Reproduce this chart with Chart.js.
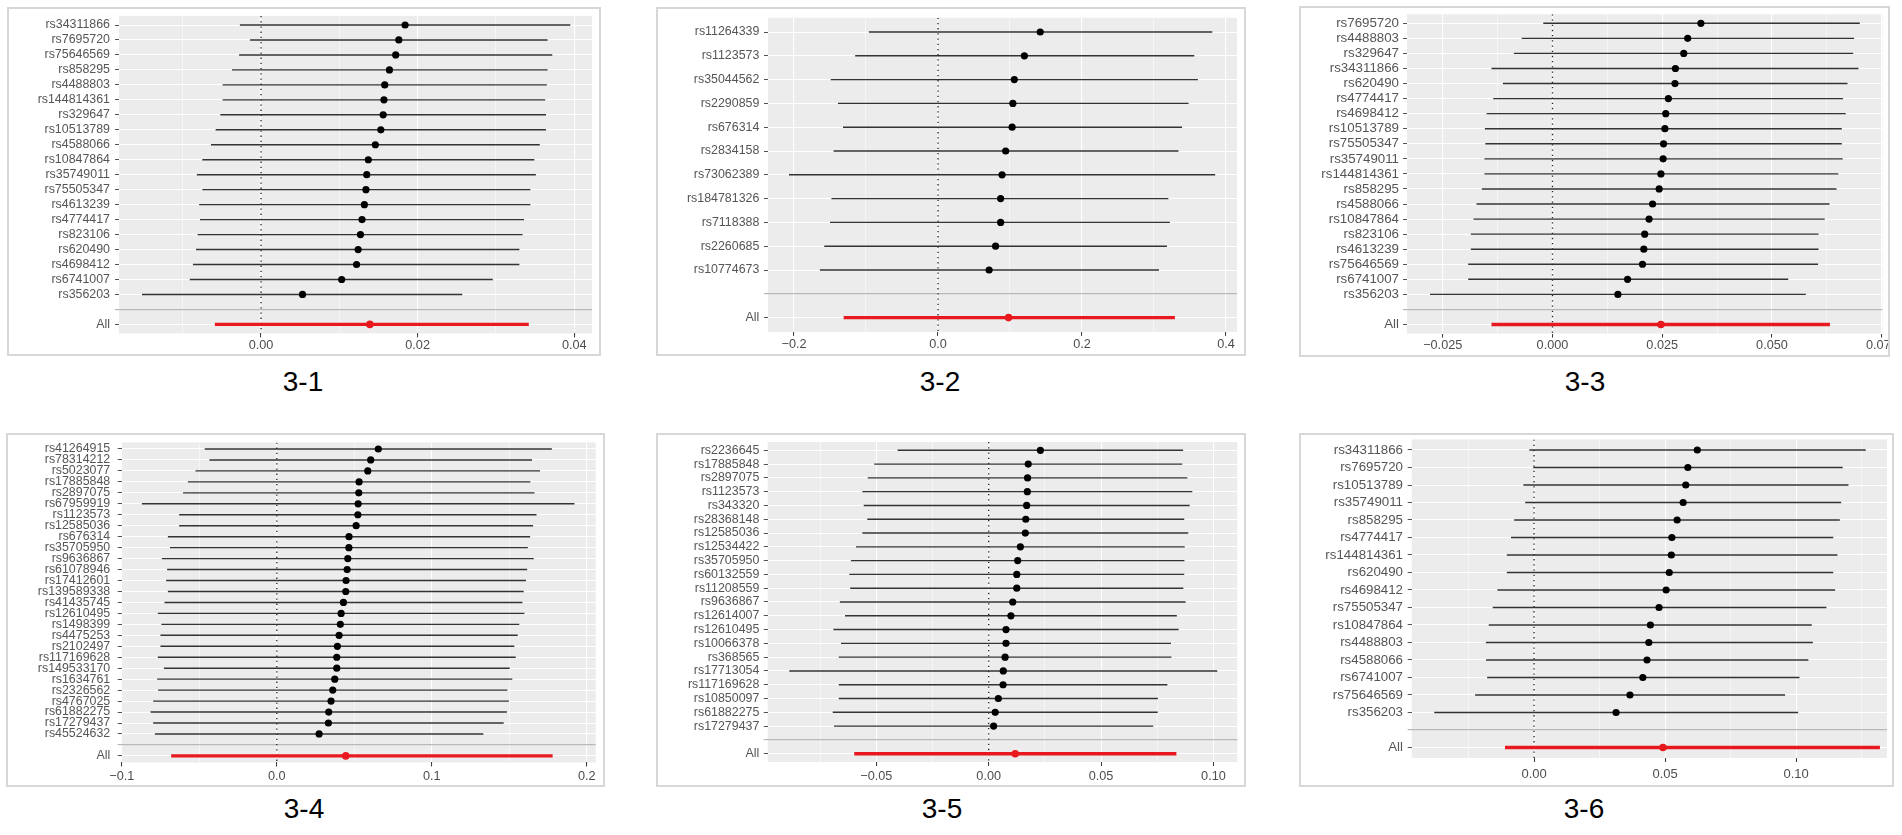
<!DOCTYPE html>
<html><head><meta charset="utf-8">
<script src="https://cdn.jsdelivr.net/npm/chart.js@4.4.1/dist/chart.umd.min.js"></script>
<style>
html,body{margin:0;padding:0;background:#fff;width:1902px;height:835px;overflow:hidden;font-family:"Liberation Sans",Arial,sans-serif;}
.box{position:absolute;box-sizing:border-box;border:2px solid #d7d7d7;}
canvas{position:absolute;}
.title{position:absolute;width:120px;text-align:center;font-size:28px;color:#000;line-height:32px;}
</style></head><body>
<script>
// ---------- DATA ----------
// 3-1
const snps31 = ['rs34311866','rs7695720','rs75646569','rs858295','rs4488803','rs144814361','rs329647','rs10513789','rs4588066','rs10847864','rs35749011','rs75505347','rs4613239','rs4774417','rs823106','rs620490','rs4698412','rs6741007','rs356203'];
const est31 = [0.0184,0.0176,0.0172,0.0164,0.0158,0.0157,0.0156,0.0153,0.0146,0.0137,0.0135,0.0134,0.0132,0.0129,0.0127,0.0124,0.0122,0.0103,0.0053];
const lo31 = [-0.0027,-0.0014,-0.0028,-0.0037,-0.0049,-0.0049,-0.0052,-0.0058,-0.0064,-0.0075,-0.0082,-0.0075,-0.0079,-0.0078,-0.0081,-0.0083,-0.0087,-0.0091,-0.0152];
const hi31 = [0.0395,0.0366,0.0372,0.0366,0.0365,0.0363,0.0364,0.0364,0.0356,0.0349,0.0351,0.0344,0.0344,0.0336,0.0334,0.0330,0.0330,0.0296,0.0257];
const all31 = [0.0139,-0.0059,0.0342];
const ticks31 = [0,0.02,0.04];
const tickLab31 = ['0.00','0.02','0.04'];
const minor31 = [-0.01,0.01,0.03];

// 3-2
const snps32 = ['rs11264339','rs1123573','rs35044562','rs2290859','rs676314','rs2834158','rs73062389','rs184781326','rs7118388','rs2260685','rs10774673'];
const est32 = [0.142,0.120,0.106,0.104,0.103,0.094,0.089,0.087,0.087,0.080,0.071];
const lo32 = [-0.096,-0.115,-0.149,-0.139,-0.132,-0.145,-0.207,-0.148,-0.150,-0.158,-0.164];
const hi32 = [0.381,0.356,0.361,0.348,0.339,0.334,0.385,0.320,0.322,0.318,0.307];
const all32 = [0.098,-0.131,0.329];
const ticks32 = [-0.2,0,0.2,0.4];
const tickLab32 = ['\u22120.2','0.0','0.2','0.4'];
const minor32 = [-0.1,0.1,0.3];

// 3-3
const snps33 = ['rs7695720','rs4488803','rs329647','rs34311866','rs620490','rs4774417','rs4698412','rs10513789','rs75505347','rs35749011','rs144814361','rs858295','rs4588066','rs10847864','rs823106','rs4613239','rs75646569','rs6741007','rs356203'];
const est33 = [0.0338,0.0308,0.0299,0.0280,0.0279,0.0264,0.0258,0.0256,0.0253,0.0252,0.0247,0.0243,0.0228,0.0220,0.0210,0.0208,0.0205,0.0171,0.0149];
const lo33 = [-0.0021,-0.0070,-0.0088,-0.0139,-0.0113,-0.0135,-0.0150,-0.0154,-0.0153,-0.0155,-0.0155,-0.0161,-0.0173,-0.0180,-0.0186,-0.0186,-0.0192,-0.0192,-0.0279];
const hi33 = [0.0700,0.0687,0.0685,0.0697,0.0672,0.0662,0.0668,0.0659,0.0659,0.0661,0.0651,0.0647,0.0631,0.0620,0.0606,0.0606,0.0605,0.0537,0.0577];
const all33 = [0.0247,-0.0139,0.0632];
const ticks33 = [-0.025,0,0.025,0.05,0.075];
const tickLab33 = ['\u22120.025','0.000','0.025','0.050','0.075'];
const minor33 = [-0.0125,0.0125,0.0375,0.0625];

// 3-4
const snps34 = ['rs41264915','rs78314212','rs5023077','rs17885848','rs2897075','rs67959919','rs1123573','rs12585036','rs676314','rs35705950','rs9636867','rs61078946','rs17412601','rs139589338','rs41435745','rs12610495','rs1498399','rs4475253','rs2102497','rs117169628','rs149533170','rs1634761','rs2326562','rs4767025','rs61882275','rs17279437','rs45524632'];
const est34 = [0.0655,0.0606,0.0587,0.0531,0.0529,0.0525,0.0523,0.0512,0.0466,0.0465,0.0458,0.0454,0.0447,0.0445,0.0430,0.0415,0.0410,0.0402,0.0391,0.0387,0.0387,0.0374,0.0361,0.0350,0.0335,0.0333,0.0273];
const lo34 = [-0.0465,-0.0435,-0.0525,-0.0574,-0.0605,-0.0871,-0.0630,-0.0630,-0.0703,-0.0690,-0.0742,-0.0708,-0.0714,-0.0703,-0.0725,-0.0768,-0.0745,-0.0751,-0.0751,-0.0768,-0.0729,-0.0772,-0.0766,-0.0798,-0.0815,-0.0798,-0.0787];
const hi34 = [0.1775,0.1647,0.1699,0.1636,0.1663,0.1921,0.1676,0.1654,0.1635,0.1620,0.1658,0.1616,0.1608,0.1593,0.1585,0.1598,0.1565,0.1555,0.1533,0.1542,0.1503,0.1520,0.1488,0.1498,0.1485,0.1464,0.1333];
const all34 = [0.0445,-0.0682,0.178];
const ticks34 = [-0.1,0,0.1,0.2];
const tickLab34 = ['\u22120.1','0.0','0.1','0.2'];
const minor34 = [-0.05,0.05,0.15];

// 3-5
const snps35 = ['rs2236645','rs17885848','rs2897075','rs1123573','rs343320','rs28368148','rs12585036','rs12534422','rs35705950','rs60132559','rs11208559','rs9636867','rs12614007','rs12610495','rs10066378','rs368565','rs17713054','rs117169628','rs10850097','rs61882275','rs17279437'];
const est35 = [0.0230,0.0176,0.0173,0.0172,0.0169,0.0165,0.0163,0.0141,0.0129,0.0125,0.0125,0.0107,0.0099,0.0077,0.0077,0.0073,0.0065,0.0064,0.0043,0.0029,0.0022];
const lo35 = [-0.0405,-0.0509,-0.0538,-0.0562,-0.0556,-0.0540,-0.0562,-0.0590,-0.0613,-0.0620,-0.0616,-0.0662,-0.0639,-0.0691,-0.0657,-0.0667,-0.0887,-0.0667,-0.0667,-0.0694,-0.0688];
const hi35 = [0.0865,0.0861,0.0884,0.0906,0.0894,0.0870,0.0888,0.0872,0.0871,0.0870,0.0866,0.0876,0.0837,0.0845,0.0811,0.0813,0.1017,0.0795,0.0753,0.0752,0.0732];
const all35 = [0.0118,-0.0598,0.0835];
const ticks35 = [-0.05,0,0.05,0.10];
const tickLab35 = ['\u22120.05','0.00','0.05','0.10'];
const minor35 = [-0.075,-0.025,0.025,0.075];

// 3-6
const snps36 = ['rs34311866','rs7695720','rs10513789','rs35749011','rs858295','rs4774417','rs144814361','rs620490','rs4698412','rs75505347','rs10847864','rs4488803','rs4588066','rs6741007','rs75646569','rs356203'];
const est36 = [0.0623,0.0587,0.0579,0.0569,0.0546,0.0526,0.0524,0.0516,0.0504,0.0477,0.0444,0.0438,0.0431,0.0415,0.0366,0.0313];
const lo36 = [-0.0018,-0.0003,-0.0041,-0.0034,-0.0076,-0.0088,-0.0104,-0.0104,-0.0140,-0.0158,-0.0173,-0.0184,-0.0183,-0.0179,-0.0225,-0.0381];
const hi36 = [0.1266,0.1178,0.1200,0.1172,0.1167,0.1142,0.1158,0.1142,0.1149,0.1116,0.1060,0.1064,0.1047,0.1013,0.0958,0.1008];
const all36 = [0.0492,-0.0111,0.132];
const ticks36 = [0,0.05,0.10];
const tickLab36 = ['0.00','0.05','0.10'];
const minor36 = [-0.025,0.025,0.075,0.125];

// ---------- LAYOUT (positions / sizes) ----------
const L31 = {box:[7,7,601,356], plotL:119, plotR:592, y0:25, step:14.97, xr:[-0.01814,0.04227], yFont:12.4, xFont:12.7, yPad:5, xPad:0.5, title:[303,382]};
const L32 = {box:[656,7,1246,356], plotL:768, plotR:1237, y0:32, step:23.8, xr:[-0.2361,0.4153], yFont:12.4, xFont:12.7, yPad:4.7, xPad:1, title:[940,382]};
const L33 = {box:[1299,6,1890,357], plotL:1407, plotR:1882.5, y0:23.3, step:15.06, xr:[-0.03314,0.07517], yFont:13.3, xFont:12.7, yPad:4, xPad:0.5, title:[1585,382]};
const L34 = {box:[6,433,605,787], plotL:121.7, plotR:595.7, y0:449, step:10.96, xr:[-0.1001,0.2058], yFont:12.4, xFont:12.7, yPad:7.5, xPad:2.5, title:[304,809]};
const L35 = {box:[656,433,1246,787], plotL:767.7, plotR:1237.3, y0:450.3, step:13.79, xr:[-0.0983,0.1106], yFont:12.4, xFont:12.7, yPad:4.4, xPad:3, title:[942,809]};
const L36 = {box:[1299,433,1894,787], plotL:1411.7, plotR:1887, y0:450, step:17.5, xr:[-0.0467,0.1347], yFont:13.3, xFont:13, yPad:4.7, xPad:4.5, title:[1584,809]};

Chart.defaults.font.family = '"Liberation Sans", Arial, sans-serif';

const bgPlugin = {
  id:'panelBg',
  beforeDraw(chart){
    const {ctx, chartArea:a} = chart;
    ctx.save();
    ctx.fillStyle = '#ececec';
    ctx.fillRect(a.left, a.top, a.right - a.left, a.bottom - a.top);
    ctx.restore();
  }
};

function drawPanel(titleText, snps, est, lo, hi, all, tickVals, tickLabs, minorVals, L){
  const n = snps.length;
  const [bl, bt, br, bb] = L.box;
  const box = document.createElement('div');
  box.className = 'box';
  Object.assign(box.style, {left: bl+'px', top: bt+'px', width: (br-bl)+'px', height: (bb-bt)+'px'});
  document.body.appendChild(box);

  const cx = bl + 2, cy = bt + 2, cw = br - bl - 4, ch = bb - bt - 4;
  const cv = document.createElement('canvas');
  cv.width = cw; cv.height = ch;
  Object.assign(cv.style, {left: cx+'px', top: cy+'px', width: cw+'px', height: ch+'px'});
  document.body.appendChild(cv);

  const plotTop = L.y0 - 0.6 * L.step;
  const plotBottom = L.y0 + (n + 1.6) * L.step;
  const yW = L.plotL - cx;
  const xH = (cy + ch) - plotBottom;
  const padTop = plotTop - cy;
  const padRight = (cx + cw) - L.plotR;

  const segs = [];
  for (let i = 0; i < n; i++) {
    segs.push({x: lo[i], y: i}, {x: hi[i], y: i}, {x: null, y: null});
  }
  const dots = est.map((v, i) => ({x: v, y: i}));
  const allY = n + 1;

  const xTicks = tickVals.map((v, i) => ({value: v, lab: tickLabs[i], maj: true}))
    .concat(minorVals.map(v => ({value: v, lab: '', maj: false})))
    .sort((a, b) => a.value - b.value);
  const yTicks = snps.map((s, i) => ({value: i, lab: s}))
    .concat([{value: n, lab: '', sep: true}, {value: n + 1, lab: 'All'}]);

  new Chart(cv, {
    type: 'scatter',
    data: {
      datasets: [
        {data: dots, pointRadius: 3.6, pointBackgroundColor: '#000', pointBorderWidth: 0, showLine: false},
        {data: [{x: all[0], y: allY}], pointRadius: 3.8, pointBackgroundColor: '#e8191e', pointBorderWidth: 0, showLine: false},
        {type: 'line', data: [{x: all[1], y: allY}, {x: all[2], y: allY}], borderColor: '#e8191e', borderWidth: 3.4, pointRadius: 0, tension: 0, fill: false},
        {type: 'line', data: segs, borderColor: '#333', borderWidth: 1.4, pointRadius: 0, tension: 0, fill: false, spanGaps: false},
        {type: 'line', data: [{x: 0, y: -0.6}, {x: 0, y: n + 1.6}], borderColor: '#222', borderWidth: 1.3, borderDash: [1.3, 3.9], pointRadius: 0, tension: 0, fill: false}
      ]
    },
    options: {
      responsive: false, animation: false, events: [],
      layout: {padding: {top: padTop, right: padRight, left: 0, bottom: 0}},
      plugins: {legend: {display: false}, tooltip: {enabled: false}},
      scales: {
        x: {
          type: 'linear', min: L.xr[0], max: L.xr[1],
          border: {display: false},
          grid: {
            color: '#ffffff',
            lineWidth: c => (c.tick && c.tick.maj) ? 1.1 : 0.55,
            tickColor: c => (c.tick && c.tick.maj) ? '#333' : 'rgba(0,0,0,0)',
            tickLength: 4, tickWidth: 1
          },
          ticks: {
            autoSkip: false, maxRotation: 0, minRotation: 0, padding: L.xPad,
            color: '#4d4d4d', font: {size: L.xFont},
            callback: (v, i, t) => (t[i] && t[i].lab) || ''
          },
          afterBuildTicks: s => { s.ticks = xTicks.map(t => Object.assign({}, t)); },
          afterFit: s => { s.height = xH; s.paddingLeft = 0; s.paddingRight = 0; s.paddingTop = 0; s.paddingBottom = 0; }
        },
        y: {
          type: 'linear', reverse: true, min: -0.6, max: n + 1.6,
          border: {display: false},
          grid: {
            color: c => (c.tick && c.tick.sep) ? '#b9b9b9' : '#ffffff',
            lineWidth: c => (c.tick && c.tick.sep) ? 1.3 : 1,
            tickColor: c => (c.tick && c.tick.sep) ? '#aaaaaa' : '#555',
            tickLength: 4, tickWidth: 1
          },
          ticks: {
            autoSkip: false, padding: L.yPad, color: '#555', font: {size: L.yFont},
            callback: (v, i, t) => (t[i] && t[i].lab) || ''
          },
          afterBuildTicks: s => { s.ticks = yTicks.map(t => Object.assign({}, t)); },
          afterFit: s => { s.width = yW; s.paddingLeft = 0; s.paddingRight = 0; s.paddingTop = 0; s.paddingBottom = 0; }
        }
      }
    },
    plugins: [bgPlugin]
  });

  const t = document.createElement('div');
  t.className = 'title';
  t.textContent = titleText;
  Object.assign(t.style, {left: (L.title[0] - 60) + 'px', top: (L.title[1] - 16) + 'px'});
  document.body.appendChild(t);
}

drawPanel('3-1', snps31, est31, lo31, hi31, all31, ticks31, tickLab31, minor31, L31);
drawPanel('3-2', snps32, est32, lo32, hi32, all32, ticks32, tickLab32, minor32, L32);
drawPanel('3-3', snps33, est33, lo33, hi33, all33, ticks33, tickLab33, minor33, L33);
drawPanel('3-4', snps34, est34, lo34, hi34, all34, ticks34, tickLab34, minor34, L34);
drawPanel('3-5', snps35, est35, lo35, hi35, all35, ticks35, tickLab35, minor35, L35);
drawPanel('3-6', snps36, est36, lo36, hi36, all36, ticks36, tickLab36, minor36, L36);
</script>
</body></html>
